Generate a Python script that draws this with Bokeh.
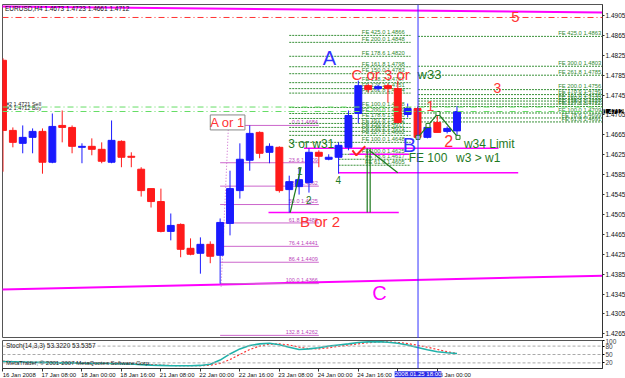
from bokeh.plotting import figure
from bokeh.models import (Range1d, FixedTicker, Span, Label,
                          ColumnDataSource, PrintfTickFormatter)
from bokeh.layouts import column
from bokeh.embed import file_html
from bokeh.resources import INLINE
from bokeh.core.properties import value

FONT = "Liberation Sans"

# ---------------- data ----------------
bar = list(range(47))
open_ = [1.4815, 1.4674, 1.4648, 1.4660, 1.4672, 1.4610, 1.4684, 1.4680, 1.4640, 1.4642,
         1.4636, 1.4610, 1.4652, 1.4622, 1.4596, 1.4557, 1.4531, 1.4471, 1.4485, 1.4437,
         1.4427, 1.4445, 1.4423, 1.4487, 1.4553, 1.4614, 1.4670, 1.4630, 1.4640, 1.4555,
         1.4561, 1.4569, 1.4630, 1.4616, 1.4620, 1.4640, 1.4708, 1.4764, 1.4758, 1.4764,
         1.4758, 1.4706, 1.4718, 1.4660, 1.4690, 1.4672, 1.4673]
high = [1.4819, 1.4680, 1.4684, 1.4678, 1.4678, 1.4708, 1.4714, 1.4684, 1.4648, 1.4658,
        1.4650, 1.4694, 1.4654, 1.4630, 1.4600, 1.4557, 1.4557, 1.4507, 1.4487, 1.4457,
        1.4459, 1.4451, 1.4497, 1.4593, 1.4648, 1.4684, 1.4672, 1.4648, 1.4642, 1.4583,
        1.4600, 1.4638, 1.4634, 1.4626, 1.4650, 1.4714, 1.4774, 1.4768, 1.4766, 1.4768,
        1.4774, 1.4728, 1.4722, 1.4684, 1.4708, 1.4682, 1.4723]
low = [1.4591, 1.4640, 1.4628, 1.4628, 1.4587, 1.4608, 1.4650, 1.4628, 1.4608, 1.4624,
       1.4608, 1.4608, 1.4600, 1.4600, 1.4541, 1.4519, 1.4469, 1.4453, 1.4419, 1.4423,
       1.4386, 1.4407, 1.4366, 1.4463, 1.4537, 1.4593, 1.4618, 1.4608, 1.4549, 1.4509,
       1.4545, 1.4549, 1.4600, 1.4614, 1.4587, 1.4634, 1.4688, 1.4750, 1.4754, 1.4730,
       1.4688, 1.4700, 1.4660, 1.4658, 1.4670, 1.4668, 1.4661]
close = [1.4674, 1.4650, 1.4660, 1.4672, 1.4610, 1.4682, 1.4680, 1.4642, 1.4642, 1.4636,
         1.4612, 1.4654, 1.4620, 1.4620, 1.4553, 1.4531, 1.4471, 1.4483, 1.4435, 1.4425,
         1.4445, 1.4421, 1.4489, 1.4557, 1.4616, 1.4668, 1.4628, 1.4642, 1.4553, 1.4571,
         1.4575, 1.4630, 1.4622, 1.4620, 1.4644, 1.4704, 1.4764, 1.4756, 1.4762, 1.4758,
         1.4690, 1.4718, 1.4660, 1.4680, 1.4670, 1.4678, 1.4712]

time_tick_bar = [0, 4, 8, 12, 16, 20, 24, 28, 32, 36, 40, 44]
time_tick_label = ["16 Jan 2008", "17 Jan 08:00", "18 Jan 00:00", "18 Jan 16:00",
                   "21 Jan 08:00", "22 Jan 00:00", "22 Jan 16:00", "23 Jan 08:00",
                   "24 Jan 00:00", "24 Jan 16:00", "25 Jan 08:00", "28 Jan 00:00"]
price_ticks = [1.4265, 1.4305, 1.4345, 1.4385, 1.4425, 1.4465, 1.4505, 1.4545, 1.4585,
               1.4625, 1.4665, 1.4705, 1.4745, 1.4785, 1.4825, 1.4865, 1.4905]
last_price = 1.4712
cursor_bar = 42.05
cursor_label = "2008.01.25 18:00"
header = "EURUSD,H4  1.4673 1.4723 1.4661 1.4712"

stoch_k = [25, 24, 23, 22, 22, 21, 20, 20, 19, 19,
           19, 18, 17, 16, 14, 12, 11, 10, 10, 10,
           11, 15, 30, 52, 70, 82, 88, 90, 85, 76,
           68, 70, 74, 80, 84, 88, 93, 95, 96, 94,
           90, 84, 75, 67, 60, 56, 53.3]
stoch_d = [26, 25, 24, 23, 22, 22, 21, 20, 20, 19,
           19, 19, 18, 17, 16, 14, 12, 11, 10, 10,
           10, 12, 18, 32, 50, 68, 80, 87, 88, 84,
           76, 71, 70, 74, 79, 84, 88, 92, 95, 95,
           93, 89, 83, 76, 68, 60, 53.5]
stoch_levels = [20, 50, 80]
stoch_ticks = [20, 50, 80, 100]

# Fibonacci retracement
fib_label = ["0.0 1.4684", "23.6 1.4609", "38.2 1.4562", "50.0 1.4525", "61.8 1.4488",
             "76.4 1.4441", "86.4 1.4409", "100.0 1.4366", "132.8 1.4262"]
fib_price = [1.4684, 1.4609, 1.4562, 1.4525, 1.4488, 1.4441, 1.4409, 1.4366, 1.4262]
fib_from, fib_to = 22.0, 32.0
fib_diag_x = [22.1, 22.9]
fib_diag_y = [1.4360, 1.4708]

# Fibonacci expansions
fe_right_price = [1.4863, 1.4803, 1.4785, 1.4756, 1.4746, 1.4738, 1.4733, 1.4727,
                  1.4722, 1.4709, 1.4699, 1.4691]
fe_right_label = ["FE 425.0 1.4863", "FE 300.0 1.4803", "FE 261.8 1.4785", "FE 200.0 1.4756",
                  "FE 178.6 1.4746", "FE 161.8 1.4738", "FE 150.0 1.4733", "FE 138.2 1.4727",
                  "FE 127.2 1.4722", "FE 100.0 1.4709", "FE 78.6 1.4699", "FE 61.8 1.4691"]
fe_right_from, fe_right_to = 42.05, 60.8

fe_mid_price = [1.4865, 1.4851, 1.4823, 1.4802, 1.4788, 1.4770, 1.4758, 1.4720]
fe_mid_label = ["FE 425.0 1.4866", "FE 200.0 1.4848", "FE 178.6 1.4820", "FE 161.8 1.4798",
                "FE 150.0 1.4783", "FE 138.2 1.4767", "FE 127.2 1.4751", "FE 100.0 1.4718"]
fe_low_price = [1.4749, 1.4708, 1.4698, 1.4688, 1.4680, 1.4672, 1.4664, 1.4650]
fe_low_label = ["FE 261.8 1.4744", "FE 200.0 1.4709", "FE 178.6 1.4700", "FE 161.8 1.4682",
                "FE 150.0 1.4677", "FE 138.2 1.4671", "FE 127.2 1.4662", "FE 100.0 1.4648"]
fe_mid_from, fe_mid_to = 29.0, 41.3
fe_small_price = [1.4626, 1.4616, 1.4604]
fe_small_label = ["FE 100.0 1.4625", "FE 78.6 1.4617", "FE 61.8 1.4605"]
fe_small_from, fe_small_to = 34.0, 41.3

# horizontal/trend objects
red_level = 1.4901
order_price = [1.4721, 1.4712]
order_label = ["#2 1.4721 Sell", "#2 1.4712 Buy"]
trend_x0 = [-0.2, -0.2]
trend_y0 = [1.4923, 1.4354]
trend_x1 = [60.8, 60.8]
trend_y1 = [1.4911, 1.4382]
mag_x0 = [26.9, 30.5, 35.1, 34.0]
mag_x1 = [40.1, 50.2, 41.1, 52.2]
mag_y = [1.4509, 1.4638, 1.4626, 1.4589]

# wave drawings
green_x0 = [36.9, 37.2, 37.1, 29.1]
green_y0 = [1.4638, 1.4638, 1.4634, 1.4509]
green_x1 = [36.9, 37.2, 40.0, 30.2]
green_y1 = [1.4509, 1.4509, 1.4589, 1.4600]
zig_x = [42.05, 43.06, 44.07, 46.1]
zig_y = [1.4660, 1.4684, 1.4708, 1.4660]
check_x = [35.4, 35.8, 36.7]
check_y = [1.4634, 1.4624, 1.4642]

wave_text = ["A", "C or 3 or", "w33", "3", "5", "1", "2", "B", "w34 Limit", "FE 100",
             "w3 > w1", "3 or w31", "4", "1", "2", "B or 2", "C"]
wave_x = [32.4, 35.3, 42.0, 49.7, 51.5, 42.9, 44.7, 40.5, 46.7, 41.1,
          45.9, 28.9, 33.7, 29.8, 30.7, 30.1, 37.4]
wave_y = [1.4819, 1.4786, 1.4786, 1.4760, 1.4901, 1.4724, 1.4652, 1.4644, 1.4646, 1.4618,
          1.4618, 1.4646, 1.4575, 1.4593, 1.4535, 1.4491, 1.4348]
a_label = "A or 1"
a_x, a_y = 21.0, 1.4690

# ---------------- styles ----------------
RED = "#ff1a1a"
BLUE = "#1a1aff"
GREEN = "#1f7a1f"
FEGREEN = "#3a913a"
MAGENTA = "#ff00ff"
VIOLET = "#cc66cc"
LABEL_SHIFT = 1.65   # half a time label, in bars (labels start at their bar)

wave_color = ["#3333ff", "#ff3333", GREEN, "#ff3333", "#ff3333", "#ff3333", "#ff3333",
              "#3333ff", GREEN, GREEN, GREEN, GREEN, GREEN, GREEN, GREEN, "#ff3333", MAGENTA]
wave_size = ["20px", "15px", "13px", "14px", "15px", "14px", "16px", "20px", "12px", "12px",
             "12px", "12px", "10px", "10px", "10px", "15px", "20px"]

# ---------------- main panel ----------------
p = figure(frame_width=600, frame_height=334,
           x_range=Range1d(-0.05, 60.74), y_range=Range1d(1.42557, 1.49271),
           output_backend="svg", toolbar_location=None,
           x_axis_location=None, y_axis_location="right",
           min_border_left=2, min_border_top=4, min_border_bottom=0, min_border_right=0)
p.background_fill_color = "white"
p.border_fill_color = "white"
p.outline_line_color = "#555555"
p.xgrid.visible = False
p.ygrid.visible = False
ax = p.yaxis[0]
ax.ticker = FixedTicker(ticks=price_ticks)
ax.formatter = PrintfTickFormatter(format="%.4f")
ax.major_label_text_font = FONT
ax.major_label_text_font_size = "6.5px"
ax.major_label_text_color = "#111111"
ax.major_tick_out = 2
ax.major_tick_in = 0
ax.minor_tick_out = 0
ax.minor_tick_in = 0
ax.major_label_standoff = 1
ax.axis_line_color = "#333333"
ax.major_tick_line_color = "#333333"

# trend lines & levels
p.segment(trend_x0, trend_y0, trend_x1, trend_y1, line_color=MAGENTA, line_width=2)
p.add_layout(Span(location=red_level, dimension="width", line_color="#ff3333",
                  line_dash="6 3 1 3", line_width=1))
for op in order_price:
    p.add_layout(Span(location=op, dimension="width", line_color="#66dd66",
                      line_dash="6 3 1 3", line_width=1))
p.text([0.3] * len(order_label), [op + 0.00005 for op in order_price], text=order_label,
       text_font=value(FONT), text_font_size="5.5px", text_color="#222222",
       text_baseline="bottom", text_align="left")

# fib retracement
p.segment([fib_from] * len(fib_price), fib_price, [fib_to] * len(fib_price), fib_price,
          line_color=VIOLET, line_width=1)
p.line(fib_diag_x, fib_diag_y, line_color=VIOLET, line_dash="1 2", line_width=1)
p.text([fib_to - 0.1] * len(fib_price), [f + 0.00004 for f in fib_price], text=fib_label,
       text_font=value(FONT), text_font_size="5.5px", text_color="#bb44bb",
       text_align="right", text_baseline="bottom")

# FE sets
def fe_set(prices, labels, x0, x1, lab_x):
    p.segment([x0] * len(prices), prices, [x1] * len(prices), prices,
              line_color=FEGREEN, line_width=1, line_dash="2 1")
    p.text([lab_x] * len(prices), [q + 0.00004 for q in prices], text=labels,
           text_font=value(FONT), text_font_size="5.8px", text_color="#2f8a2f",
           text_align="right", text_baseline="bottom")

fe_set(fe_right_price, fe_right_label, fe_right_from, fe_right_to, fe_right_to - 0.2)
fe_set(fe_mid_price, fe_mid_label, fe_mid_from, fe_mid_to, fe_mid_to - 0.6)
fe_set(fe_low_price, fe_low_label, fe_mid_from, fe_mid_to, fe_mid_to - 0.6)
fe_set(fe_small_price, fe_small_label, fe_small_from, fe_small_to, fe_small_to - 0.6)

# magenta levels
p.segment(mag_x0, mag_y, mag_x1, mag_y, line_color=MAGENTA, line_width=1.5)

# candles
col = [BLUE if c >= o else RED for o, c in zip(open_, close)]
top = [max(o, c) for o, c in zip(open_, close)]
bot = [min(o, c) for o, c in zip(open_, close)]
src = ColumnDataSource(dict(x=bar, h=high, l=low, t=top, b=bot, c=col))
p.segment("x", "h", "x", "l", source=src, line_color="c", line_width=1)
p.vbar(x="x", width=0.7, top="t", bottom="b", source=src, fill_color="c", line_color="c")

# wave drawings
p.segment(green_x0, green_y0, green_x1, green_y1, line_color=GREEN, line_width=1.2)
p.line(zig_x, zig_y, line_color=GREEN, line_width=1.2)
p.scatter(zig_x, zig_y, marker="square", size=4, fill_color="white", line_color=GREEN)
p.line(check_x, check_y, line_color="#ff2222", line_width=2)

p.text(wave_x, wave_y, text=wave_text, text_color=wave_color, text_font_size=wave_size,
       text_font=value(FONT), text_align="left", text_baseline="middle")
p.add_layout(Label(x=a_x, y=a_y, text=a_label, text_color="#ff3333", text_font=FONT,
                   text_font_size="13px", text_baseline="middle", text_align="left",
                   background_fill_color="white", border_line_color="#888888"))

p.add_layout(Span(location=cursor_bar, dimension="height", line_color="#3333ff", line_width=1))
p.add_layout(Label(x=0.2, y=1.4926, text=header, text_font=FONT, text_font_size="6.5px",
                   text_color="#111111", text_baseline="top", text_align="left"))
# current price box, placed in the right side panel (not clipped to the frame)
p.add_layout(Label(x=60.85, y=last_price, text=f"{last_price:.4f}", text_font=FONT,
                   text_font_size="6.5px", text_color="white", text_baseline="middle",
                   text_align="left", background_fill_color="black"), "right")

# ---------------- stochastic panel ----------------
s = figure(frame_width=600, frame_height=28,
           x_range=p.x_range, y_range=Range1d(0, 100),
           output_backend="svg", toolbar_location=None,
           x_axis_location="below", y_axis_location="right",
           min_border_left=2, min_border_top=2, min_border_bottom=9, min_border_right=0)
s.background_fill_color = "white"
s.border_fill_color = "white"
s.outline_line_color = "#555555"
s.xgrid.visible = False
s.ygrid.visible = False
sy = s.yaxis[0]
sy.ticker = FixedTicker(ticks=stoch_ticks)
sy.major_label_text_font = FONT
sy.major_label_text_font_size = "6.5px"
sy.major_tick_out = 2
sy.major_tick_in = 0
sy.minor_tick_out = 0
sy.major_label_standoff = 1
sy.axis_line_color = "#333333"
sx = s.xaxis[0]
label_pos = [b + LABEL_SHIFT for b in time_tick_bar]
sx.ticker = FixedTicker(ticks=label_pos, minor_ticks=time_tick_bar)
sx.major_label_overrides = dict(zip(label_pos, time_tick_label))
sx.major_label_text_font = FONT
sx.major_label_text_font_size = "6px"
sx.major_label_text_color = "#111111"
sx.major_tick_out = 0
sx.major_tick_in = 0
sx.minor_tick_out = 3
sx.minor_tick_in = 0
sx.minor_tick_line_color = "#333333"
sx.major_label_standoff = 0
sx.axis_line_color = "#333333"
for lv in stoch_levels:
    s.add_layout(Span(location=lv, dimension="width", line_color="#aaaaaa",
                      line_dash="3 2", line_width=1))
s.line(bar, stoch_d, line_color="#ff3333", line_dash="2 2", line_width=1.2)
s.line(bar, stoch_k, line_color="#20b2aa", line_width=1.6)
s.add_layout(Span(location=cursor_bar, dimension="height", line_color="#3333ff", line_width=1))
s.add_layout(Label(x=0.3, y=96, text="Stoch(14,3,3) 53.3220 53.5357", text_font=FONT,
                   text_font_size="6.5px", text_color="#222222", text_baseline="top"))
s.add_layout(Label(x=0.3, y=21, text="MetaTrader, \u00a9 2001-2007 MetaQuotes Software Corp.",
                   text_font=FONT, text_font_size="6px", text_color="#222222",
                   text_baseline="middle"))
s.add_layout(Label(x=cursor_bar, y=-10, text=cursor_label, text_font=FONT,
                   text_font_size="6px", text_color="white", text_align="center",
                   text_baseline="top", background_fill_color="#2a2ae6"), "below")

layout = column(p, s, spacing=0)
open("out.html", "w").write(file_html(layout, INLINE))
